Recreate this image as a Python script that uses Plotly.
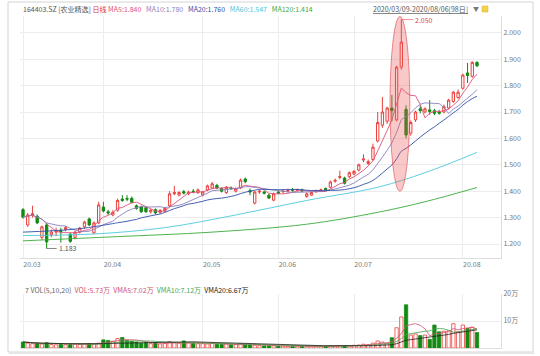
import numpy as np
import pandas as pd
import plotly.graph_objects as go

# ---------------- data ----------------
opens = [1.330,1.272,1.308,1.305,1.225,1.272,1.235,1.245,1.252,1.255,
         1.237,1.225,1.245,1.265,1.295,1.242,1.280,1.340,1.322,1.310,
         1.328,1.370,1.372,1.373,1.345,1.340,1.338,1.322,1.330,1.320,
         1.325,1.345,1.390,1.385,1.398,1.390,1.400,1.395,1.386,1.405,
         1.412,1.422,1.410,1.395,1.412,1.400,1.412,1.446,1.402,1.355,
         1.397,1.397,1.385,1.366,1.397,1.398,1.400,1.405,1.404,1.405,
         1.380,1.385,1.398,1.403,1.410,1.415,1.438,1.452,1.450,1.455,
         1.465,1.480,1.518,1.505,1.520,1.590,1.650,1.665,1.715,1.670,
         1.870,1.710,1.620,1.670,1.712,1.700,1.708,1.705,1.700,1.700,
         1.715,1.740,1.755,1.790,1.848,1.835,1.888]
highs = [1.336,1.318,1.345,1.312,1.270,1.280,1.255,1.262,1.262,1.268,
         1.242,1.250,1.265,1.288,1.300,1.285,1.360,1.360,1.330,1.328,
         1.372,1.385,1.385,1.380,1.350,1.345,1.342,1.332,1.335,1.332,
         1.340,1.400,1.420,1.400,1.405,1.402,1.408,1.410,1.400,1.425,
         1.435,1.428,1.415,1.420,1.418,1.415,1.448,1.452,1.410,1.400,
         1.405,1.402,1.390,1.395,1.402,1.408,1.410,1.412,1.410,1.410,
         1.395,1.400,1.406,1.410,1.414,1.440,1.448,1.478,1.455,1.475,
         1.480,1.505,1.540,1.520,1.580,1.700,1.757,1.720,1.765,1.875,
         2.050,1.725,1.668,1.705,1.725,1.718,1.745,1.712,1.708,1.728,
         1.750,1.780,1.785,1.845,1.886,1.892,1.892]
lows = [1.296,1.265,1.300,1.275,1.215,1.183,1.225,1.230,1.205,1.248,
        1.205,1.218,1.240,1.258,1.268,1.238,1.275,1.320,1.310,1.305,
        1.322,1.360,1.362,1.355,1.330,1.318,1.318,1.315,1.312,1.315,
        1.320,1.340,1.385,1.380,1.388,1.385,1.392,1.390,1.380,1.400,
        1.408,1.408,1.395,1.390,1.405,1.395,1.408,1.430,1.385,1.350,
        1.390,1.388,1.370,1.362,1.388,1.392,1.395,1.398,1.398,1.396,
        1.375,1.382,1.394,1.398,1.400,1.410,1.432,1.445,1.425,1.450,
        1.460,1.475,1.510,1.500,1.515,1.585,1.640,1.655,1.665,1.665,
        1.860,1.600,1.610,1.662,1.695,1.695,1.690,1.688,1.690,1.695,
        1.710,1.735,1.750,1.785,1.810,1.830,1.870]
closes = [1.302,1.310,1.315,1.280,1.265,1.208,1.245,1.250,1.247,1.262,
          1.210,1.245,1.260,1.283,1.272,1.280,1.348,1.325,1.318,1.320,
          1.365,1.365,1.370,1.358,1.335,1.322,1.322,1.328,1.318,1.327,
          1.335,1.390,1.395,1.395,1.393,1.397,1.398,1.405,1.397,1.420,
          1.428,1.412,1.400,1.415,1.410,1.410,1.442,1.436,1.397,1.397,
          1.400,1.392,1.374,1.390,1.393,1.400,1.402,1.404,1.406,1.401,
          1.390,1.395,1.401,1.405,1.405,1.435,1.441,1.455,1.430,1.470,
          1.475,1.500,1.522,1.512,1.567,1.660,1.700,1.715,1.705,1.870,
          1.965,1.613,1.660,1.700,1.705,1.712,1.702,1.695,1.695,1.720,
          1.745,1.775,1.775,1.840,1.838,1.888,1.875]
volumes = [2.2,1.8,1.6,1.8,1.5,2.0,1.3,1.2,1.4,1.2,1.3,1.4,1.3,1.5,1.6,1.4,1.8,
           3.0,2.8,2.5,3.5,3.9,2.8,2.5,
           2.2,1.8,2.0,1.6,1.9,1.5,1.7,2.4,2.0,1.8,2.6,1.9,1.7,1.6,
           1.6,1.5,1.8,1.4,1.3,1.5,1.2,1.3,1.6,1.4,1.2,
           1.0,0.9,0.8,0.8,0.9,0.7,0.7,0.6,0.6,0.7,0.6,0.6,0.7,0.6,0.6,0.7,0.8,0.7,0.8,0.9,0.8,1.0,1.1,1.4,
           1.2,1.8,2.6,2.2,
           1.8,3.8,7.5,11.5,16.0,4.8,5.2,4.6,4.8,3.2,
           8.5,6.0,6.2,6.4,9.0,
           6.0,8.5,7.2,7.7,5.73]

# long moving averages (index, value)
ma20_early_idx = [0, 6, 12]
ma20_early_val = [1.245, 1.250, 1.258]
ma60_idx = [0, 15, 30, 45, 60, 75, 85, 96]
ma60_val = [1.232, 1.238, 1.262, 1.310, 1.365, 1.415, 1.470, 1.547]
ma120_idx = [0, 20, 40, 60, 75, 85, 96]
ma120_val = [1.212, 1.228, 1.245, 1.275, 1.320, 1.360, 1.414]

month_idx = [0, 17, 38, 54, 70, 93]
month_labels = ["20.03", "20.04", "20.05", "20.06", "20.07", "20.08"]
price_ticks = [1.2, 1.3, 1.4, 1.5, 1.6, 1.7, 1.8, 1.9, 2.0]
vol_ticks = [10, 20]
vol_tick_labels = ["10万", "20万"]

# ---------------- derived ----------------
n = len(closes)
idx = np.arange(n)
cs = pd.Series(closes)
ma5 = cs.rolling(5, min_periods=1).mean()
ma10 = cs.rolling(10, min_periods=1).mean()
ma20_full = cs.rolling(20).mean()
ma20_x = list(ma20_early_idx) + list(idx[19:])
ma20_y = list(ma20_early_val) + list(ma20_full[19:])
vs = pd.Series(volumes)
vma5 = vs.rolling(5, min_periods=1).mean()
vma10 = vs.rolling(10, min_periods=1).mean()
vma20 = vs.rolling(20, min_periods=1).mean()

up = [c >= o for o, c in zip(opens, closes)]
RED = "#e8413c"
GREEN = "#138a13"

# ---------------- geometry helpers (pixels -> paper) ----------------
W, H = 540, 356
L, R, T, B = 20, 39, 16, 8
PW, PH = W - L - R, H - T - B
def px(x):
    return (x - L) / PW
def py(y):
    return (H - B - y) / PH

x0_px, step = 23.0, 454.0 / 96
xr = [(L - x0_px) / step, (L + PW - x0_px) / step]

fig = go.Figure()

fig.add_trace(go.Candlestick(
    x=idx, open=opens, high=highs, low=lows, close=closes,
    increasing=dict(line=dict(color=RED, width=1), fillcolor="white"),
    decreasing=dict(line=dict(color=GREEN, width=1), fillcolor=GREEN),
    whiskerwidth=0, xaxis="x", yaxis="y", showlegend=False, hoverinfo="skip"))

line_specs = [
    (idx, ma5, "#e0507a", "linear"),
    (idx, ma10, "#8c7fc0", "linear"),
    (ma20_x, ma20_y, "#2f4fa8", "spline"),
    (ma60_idx, ma60_val, "#4cc8dc", "spline"),
    (ma120_idx, ma120_val, "#3aaa3a", "spline"),
]
for xs, ys, col, shp in line_specs:
    fig.add_trace(go.Scatter(x=xs, y=ys, mode="lines",
                             line=dict(color=col, width=0.9, shape=shp),
                             xaxis="x", yaxis="y", showlegend=False, hoverinfo="skip"))

fig.add_trace(go.Bar(
    x=idx, y=volumes,
    marker=dict(color=["white" if u else GREEN for u in up],
                line=dict(color=[RED if u else GREEN for u in up], width=0.8)),
    width=0.7, xaxis="x2", yaxis="y2", showlegend=False, hoverinfo="skip"))
for ser, col in [(vma5, "#d2506e"), (vma10, "#49a64a"), (vma20, "#222222")]:
    fig.add_trace(go.Scatter(x=idx, y=ser, mode="lines", line=dict(color=col, width=0.8),
                             xaxis="x2", yaxis="y2", showlegend=False, hoverinfo="skip"))

font_main = "Noto Sans CJK SC, Noto Sans, sans-serif"
grid = "#ececec"
price_top, price_bot = 16, 258
vol_top, vol_bot = 294, 348
p_per_unit = 264.0
yr = [1.2 - (price_bot - 244) / p_per_unit, 1.2 + (244 - price_top) / p_per_unit]

fig.update_layout(
    width=W, height=H, margin=dict(l=L, r=R, t=T, b=B),
    paper_bgcolor="white", plot_bgcolor="white",
    font=dict(family=font_main, size=7, color="#666666"),
    bargap=0.3,
    xaxis=dict(domain=[0, 1], range=xr, anchor="y", tickmode="array",
               tickvals=month_idx, ticktext=month_labels, ticks="",
               showgrid=True, gridcolor=grid, gridwidth=1, zeroline=False,
               showline=True, linecolor="#dddddd", rangeslider=dict(visible=False),
               tickfont=dict(size=7, color="#777777"), ticklabelshift=9, ticklabelstandoff=0),
    yaxis=dict(domain=[py(price_bot), py(price_top)], range=yr, side="right",
               tickmode="array", tickvals=price_ticks, tickformat=".3f",
               showgrid=True, gridcolor=grid, zeroline=False, ticks="",
               showline=True, linecolor="#dddddd", mirror=False,
               tickfont=dict(size=7, color="#777777")),
    xaxis2=dict(domain=[0, 1], range=xr, anchor="y2", tickmode="array",
                tickvals=month_idx, showticklabels=False, ticks="",
                showgrid=True, gridcolor=grid, zeroline=False,
                showline=True, linecolor="#dddddd"),
    yaxis2=dict(domain=[py(vol_bot), py(vol_top)], range=[0, 20], side="right",
                tickmode="array", tickvals=vol_ticks, ticktext=vol_tick_labels,
                showgrid=True, gridcolor=grid, zeroline=False, ticks="",
                showline=True, linecolor="#dddddd",
                tickfont=dict(size=7, color="#777777")),
)

# red ellipse around the spike
fig.add_shape(type="circle", xref="x", yref="y", x0=77.6, x1=81.8, y0=1.40, y1=2.062,
              fillcolor="rgba(238,90,90,0.33)", line=dict(color="rgba(220,60,60,0.7)", width=0.8),
              layer="above")

# max / min markers
fig.add_annotation(x=80, y=2.050, xref="x", yref="y", text="2.050", showarrow=True,
                   ax=12, ay=0, arrowhead=0, arrowwidth=0.7, arrowcolor="#e06060",
                   xanchor="left", font=dict(size=7, color="#e04040"))
fig.add_annotation(x=5, y=1.183, xref="x", yref="y", text="1.183", showarrow=True,
                   ax=10, ay=0, arrowhead=0, arrowwidth=0.7, arrowcolor="#555555",
                   xanchor="left", font=dict(size=7, color="#555555"))

# header text
hdr = ('<span style="color:#555">164403.SZ [农业精选]</span> '
       '<span style="color:#e03030">日线</span> '
       '<span style="color:#e0507a">MA5:1.840</span>&nbsp;&nbsp;&nbsp;'
       '<span style="color:#8c7fc0">MA10:1.780</span>&nbsp;&nbsp;&nbsp;'
       '<span style="color:#2f4fa8">MA20:1.760</span>&nbsp;&nbsp;&nbsp;'
       '<span style="color:#4cc8dc">MA60:1.547</span>&nbsp;&nbsp;&nbsp;'
       '<span style="color:#3aaa3a">MA120:1.414</span>')
fig.add_annotation(x=px(21), y=py(9), xref="paper", yref="paper", text=hdr, showarrow=False,
                   xanchor="left", yanchor="middle", font=dict(size=7))
fig.add_annotation(x=px(470), y=py(9), xref="paper", yref="paper",
                   text="<u>2020/03/09-2020/08/06[98日]</u>", showarrow=False,
                   xanchor="right", yanchor="middle", font=dict(size=7, color="#555555"))
fig.add_annotation(x=px(476), y=py(9), xref="paper", yref="paper", text="▼", showarrow=False,
                   xanchor="center", yanchor="middle", font=dict(size=6, color="#777777"))
fig.add_shape(type="rect", xref="paper", yref="paper", x0=px(482), x1=px(488), y0=py(12), y1=py(6),
              fillcolor="#f2d24a", line=dict(color="#d8b030", width=0.5))

vol_hdr = ('<span style="color:#666">7 VOL(5,10,20)</span>&nbsp;&nbsp;'
           '<span style="color:#d2506e">VOL:5.73万</span>&nbsp;&nbsp;'
           '<span style="color:#d2506e">VMA5:7.02万</span>&nbsp;&nbsp;'
           '<span style="color:#49a64a">VMA10:7.12万</span>&nbsp;&nbsp;'
           '<span style="color:#222">VMA20:6.67万</span>')
fig.add_annotation(x=px(23), y=py(290), xref="paper", yref="paper", text=vol_hdr, showarrow=False,
                   xanchor="left", yanchor="middle", font=dict(size=7))

# card frame
fig.add_shape(type="rect", xref="paper", yref="paper", x0=px(8), x1=px(533), y0=py(352), y1=py(2),
              line=dict(color="#d4d4d4", width=1), fillcolor="rgba(0,0,0,0)", layer="below")
fig.add_shape(type="line", xref="paper", yref="paper", x0=px(9), x1=px(534), y0=py(353), y1=py(353),
              line=dict(color="#e6e6e6", width=2))

fig.write_html("out.html", config={"displayModeBar": False},
               post_script="document.body.style.margin='0';document.body.style.overflow='hidden';")
